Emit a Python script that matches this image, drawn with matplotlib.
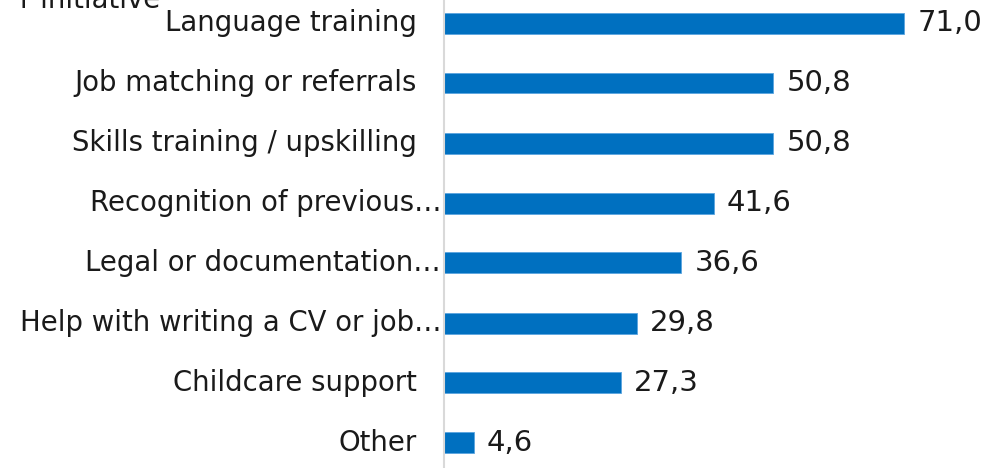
import matplotlib.pyplot as plt
from matplotlib.transforms import blended_transform_factory

categories = ["Language training", "Job matching or referrals", "Skills training / upskilling",
              "Recognition of previous…", "Legal or documentation…", "Help with writing a CV or job…",
              "Childcare support", "Other"]
values = [71.0, 50.8, 50.8, 41.6, 36.6, 29.8, 27.3, 4.6]
truncated = [False, False, False, True, True, True, False, False]

plt.rcParams['font.family'] = ['DejaVu Sans']

fig = plt.figure(figsize=(9.86, 4.68), dpi=100)
ax = fig.add_axes([444 / 986, 0, 542 / 986, 1])

pos = list(range(len(categories)))
ax.barh(pos, values, height=0.35, color='#0070c0', edgecolor='#5aa5e0', linewidth=0.6)

ax.set_xlim(0, 542 / 6.48)
ax.set_ylim(445 / 60, -23 / 60)

for s in ['top', 'right', 'bottom']:
    ax.spines[s].set_visible(False)
ax.spines['left'].set_color('#d9d9d9')
ax.spines['left'].set_linewidth(1.5)
ax.set_xticks([])
ax.set_yticks([])

trans = blended_transform_factory(fig.transFigure, ax.transData)
for p, lab, tr in zip(pos, categories, truncated):
    x = 441 / 986 if tr else 417 / 986
    ax.text(x, p, lab, transform=trans, ha='right', va='center', fontsize=19.8, color='#1a1a1a')

for p, v in zip(pos, values):
    ax.annotate(f"{v:.1f}".replace('.', ','), (v, p), xytext=(9.5, 0), textcoords='offset points',
                ha='left', va='center', fontsize=21, color='#1a1a1a')

# title cut off at the top-left, as in the source image
fig.text(0.02, 460 / 468, "r initiative", ha='left', va='baseline', fontsize=19.8, color='#1a1a1a')

fig.savefig('out.png', dpi=100)
